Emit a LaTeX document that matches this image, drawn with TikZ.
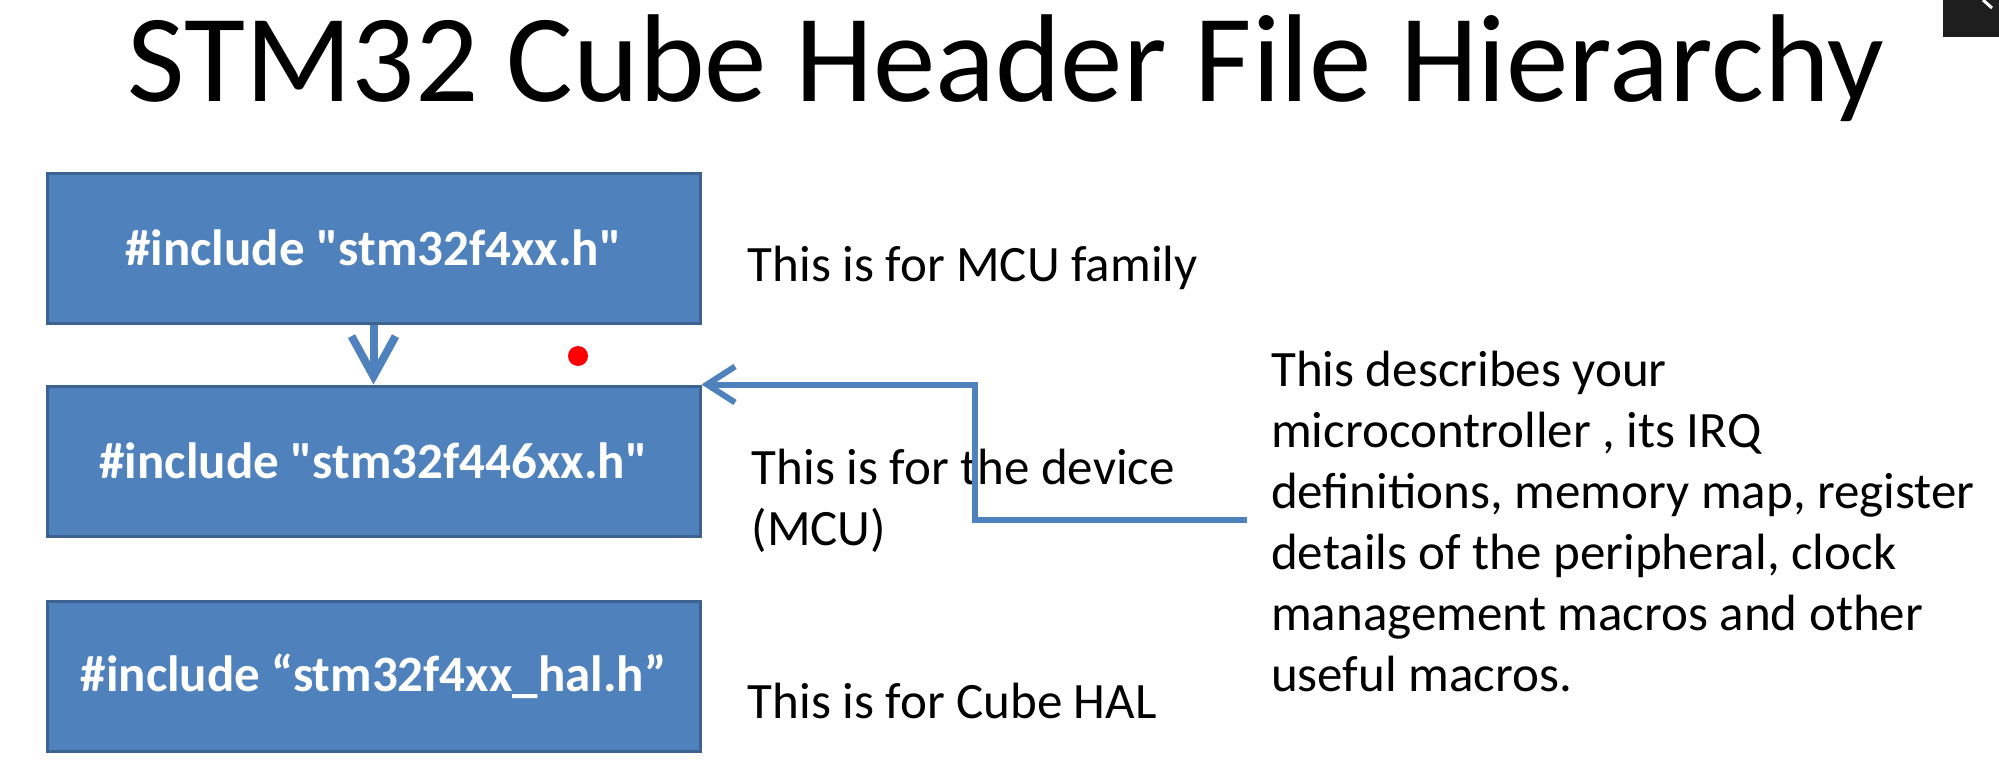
\documentclass[tikz,border=0pt]{standalone}
\usepackage{fontspec}
\setmainfont{Carlito}[Ligatures=TeXOff]
\usetikzlibrary{arrows.meta,positioning}

\definecolor{boxblue}{HTML}{4F81BD}
\definecolor{boxline}{HTML}{3C6290}
\definecolor{iconbg}{HTML}{1E1E1E}

\begin{document}
\begin{tikzpicture}[x=1pt,y=-1pt,node distance=60pt,
    hdr/.style={draw=boxline,line width=3pt,fill=boxblue,text=white,
      font=\fontsize{51}{62}\selectfont\bfseries,
      minimum width=653pt,minimum height=150pt,inner sep=0pt},
    note/.style={align=left,font=\fontsize{51}{61}\selectfont,inner sep=0pt},
    link/.style={draw=boxblue,line width=6pt}]
  \useasboundingbox (0,0) rectangle (1999,765);
  % title
  \node[anchor=base,font=\fontsize{125}{140}\selectfont] (title) at (1006,102)
    {STM32 Cube Header File Hierarchy};
  % header boxes
  \node[hdr] (fam) at (373.5,248) {\#include "stm32f4xx.h"};
  \node[hdr] [below=of fam] (dev) {\#include "stm32f446xx.h"};
  \node[hdr] [below=62pt of dev] (hal) {\#include “stm32f4xx\_hal.h”};
  % notes
  \node[note] [right=46pt of fam,yshift=-20pt] (famnote) {This is for MCU family};
  \node[note] [right=50pt of dev,yshift=-40pt] (devnote) {This is for the device\\(MCU)};
  \node[note] [right=46pt of hal,yshift=-25pt] (halnote) {This is for Cube HAL};
  \node[note,anchor=west] (desc) at (1271,521)
    {This describes your\\microcontroller , its IRQ\\definitions, memory map, register\\
     details of the peripheral, clock\\management macros and other\\useful macros.};
  \coordinate (tail) at (1247,520);
  % connectors
  \draw[link,line width=8pt,-{Straight Barb[length=40pt,width=44pt]}]
    (fam.south) -- (dev.north);
  \draw[link,-{Straight Barb[length=28pt,width=36pt]}]
    (tail) -- ++(-272,0) |- (dev.north east);
  % pointer dot and window icon
  \fill[red] (578,356) circle[radius=10pt];
  \fill[iconbg] (1943,0) rectangle (1999,37);
  \draw[white,line width=3pt] (1983,0) -- (1992,8);
\end{tikzpicture}
\end{document}
